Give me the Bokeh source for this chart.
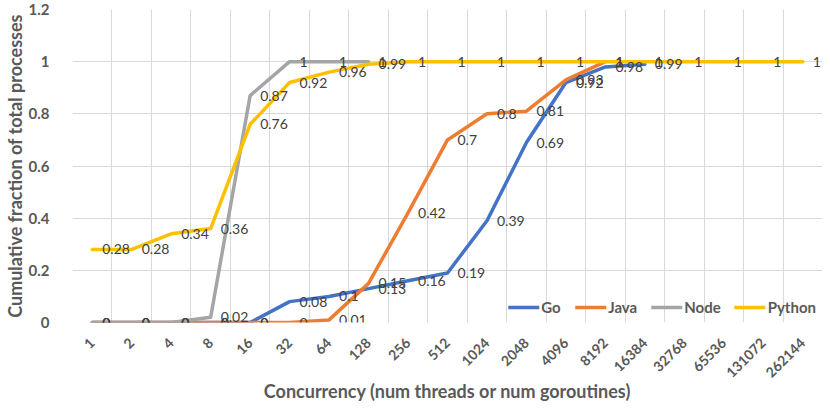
import math
from bokeh.plotting import figure
from bokeh.models import FactorRange, FixedTicker, Legend, LegendItem, NumeralTickFormatter
from bokeh.core.properties import value
from bokeh.embed import file_html
from bokeh.resources import INLINE

categories = ["1", "2", "4", "8", "16", "32", "64", "128", "256", "512", "1024",
              "2048", "4096", "8192", "16384", "32768", "65536", "131072", "262144"]

go_vals = [0, 0, 0, 0, 0, 0.08, 0.1, 0.13, 0.16, 0.19, 0.39, 0.69, 0.92, 0.98, 0.99]
java_vals = [0, 0, 0, 0, 0, 0, 0.01, 0.15, 0.42, 0.7, 0.8, 0.81, 0.93, 1]
node_vals = [0, 0, 0, 0.02, 0.87, 1, 1, 1]
python_vals = [0.28, 0.28, 0.34, 0.36, 0.76, 0.92, 0.96, 0.99, 1, 1, 1, 1, 1, 1, 1, 1, 1, 1, 1]

series_names = ["Go", "Java", "Node", "Python"]
series_values = [go_vals, java_vals, node_vals, python_vals]
series_colors = ["#4472C4", "#ED7D31", "#A5A5A5", "#FFC000"]

y_ticks = [0, 0.2, 0.4, 0.6, 0.8, 1.0, 1.2]

x_title = "Concurrency (num threads or num goroutines)"
y_title = "Cumulative fraction of total processes"

FONT = "Lato"
AXIS_COLOR = "#595959"

p = figure(width=822, height=405,
           x_range=FactorRange(factors=categories, range_padding=0),
           y_range=(0, 1.2),
           output_backend="svg", toolbar_location=None,
           min_border_left=63, min_border_right=0,
           min_border_top=9, min_border_bottom=83)
p.outline_line_color = None
p.background_fill_color = "white"
p.border_fill_color = "white"

p.xgrid.ticker = FixedTicker(ticks=list(range(len(categories) + 1)))
p.ygrid.ticker = FixedTicker(ticks=y_ticks)
for g in (p.xgrid, p.ygrid):
    g.grid_line_color = "#D9D9D9"
    g.grid_line_width = 1

p.yaxis.ticker = FixedTicker(ticks=y_ticks)
p.yaxis.formatter = NumeralTickFormatter(format="0.[0]")
p.yaxis.axis_line_color = None
p.yaxis.major_tick_line_color = None
p.yaxis.minor_tick_line_color = None
p.yaxis.major_label_standoff = 17
p.yaxis.major_label_text_font = FONT
p.yaxis.major_label_text_font_style = "bold"
p.yaxis.major_label_text_font_size = "15px"
p.yaxis.major_label_text_color = AXIS_COLOR
p.yaxis.axis_label = y_title
p.yaxis.axis_label_text_font = FONT
p.yaxis.axis_label_text_font_style = "bold"
p.yaxis.axis_label_text_font_size = "18px"
p.yaxis.axis_label_text_color = AXIS_COLOR
p.yaxis.axis_label_standoff = 0

p.xaxis.axis_line_color = None
p.xaxis.major_tick_line_color = None
p.xaxis.minor_tick_line_color = None
p.xaxis.major_label_orientation = math.pi / 4
p.xaxis.major_label_standoff = 12
p.xaxis.major_label_text_font = FONT
p.xaxis.major_label_text_font_style = "bold"
p.xaxis.major_label_text_font_size = "14px"
p.xaxis.major_label_text_color = AXIS_COLOR
p.xaxis.axis_label = x_title
p.xaxis.axis_label_text_font = FONT
p.xaxis.axis_label_text_font_style = "bold"
p.xaxis.axis_label_text_font_size = "18px"
p.xaxis.axis_label_text_color = AXIS_COLOR
p.xaxis.axis_label_standoff = -5

renderers = []
for name, vals, col in zip(series_names, series_values, series_colors):
    r = p.line(x=categories[:len(vals)], y=vals, line_color=col, line_width=3.5,
               line_join="round", line_cap="round")
    renderers.append(r)

for name, vals, col in zip(series_names, series_values, series_colors):
    p.text(x=categories[:len(vals)], y=vals, text=[f"{v:g}" for v in vals],
           x_offset=10, text_baseline="middle", text_align="left",
           text_font=value(FONT), text_font_size="14px", text_color="#404040")

legend = Legend(items=[LegendItem(label=n, renderers=[r]) for n, r in zip(series_names, renderers)],
                orientation="horizontal", location="bottom_right",
                glyph_width=31, glyph_height=16, label_standoff=2, spacing=14,
                padding=0, margin=6, border_line_color=None, background_fill_alpha=0,
                label_text_font=FONT, label_text_font_style="bold",
                label_text_font_size="15px", label_text_color=AXIS_COLOR)
p.add_layout(legend)

open("out.html", "w").write(file_html(p, INLINE))
